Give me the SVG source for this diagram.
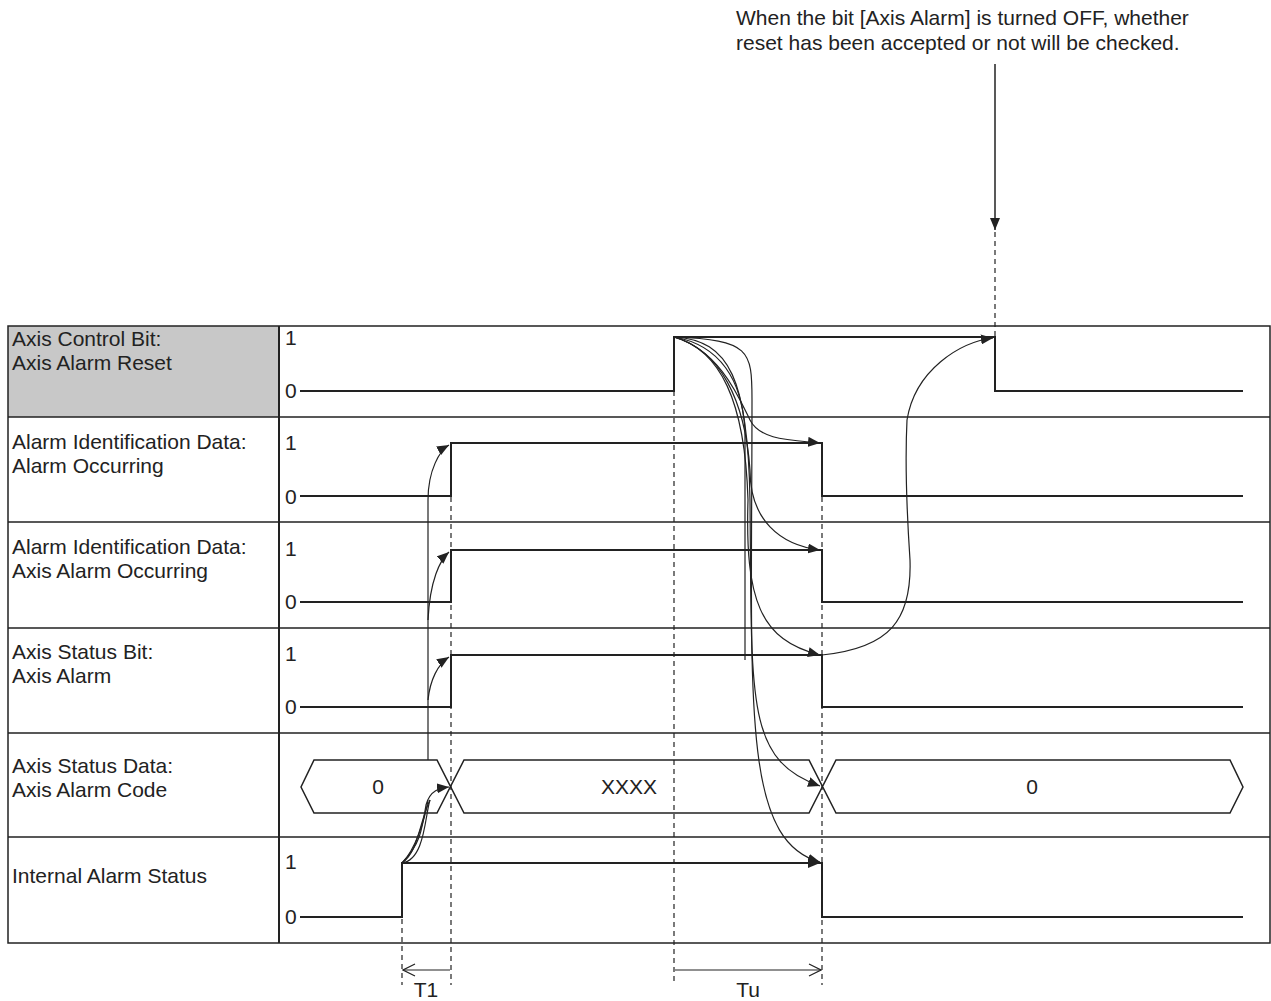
<svg xmlns="http://www.w3.org/2000/svg" width="1271" height="1001" viewBox="0 0 1271 1001">
<style>
text{font-family:"Liberation Sans",Arial,sans-serif;font-size:21px;fill:#222}
.s{fill:none;stroke:#222;stroke-width:2}
.b{fill:none;stroke:#222;stroke-width:1.5}
.c{fill:none;stroke:#222;stroke-width:1.2}
.d{fill:none;stroke:#222;stroke-width:1.2;stroke-dasharray:5,4}
</style>
<defs>
<marker id="a" markerWidth="12" markerHeight="10" refX="12" refY="5" orient="auto" markerUnits="userSpaceOnUse"><path d="M0,0 L12,5 L0,10 Z" fill="#222"/></marker>
<marker id="o" markerWidth="14" markerHeight="14" refX="13" refY="7" orient="auto-start-reverse" markerUnits="userSpaceOnUse"><path d="M1,1 L13,7 L1,13" fill="none" stroke="#222" stroke-width="1.2"/></marker>
</defs>
<g id="table">
<rect x="8" y="326" width="271" height="91" fill="#c8c8c8"/>
<rect x="8" y="326" width="1262" height="617" class="b"/>
<line x1="279" y1="326" x2="279" y2="943" class="s"/>
<path d="M8 417H1270M8 522H1270M8 628H1270M8 733H1270M8 837H1270" class="b"/>
</g>
<g id="labels">
<text x="12" y="346">Axis Control Bit:</text><text x="12" y="370">Axis Alarm Reset</text>
<text x="12" y="449">Alarm Identification Data:</text><text x="12" y="473">Alarm Occurring</text>
<text x="12" y="554">Alarm Identification Data:</text><text x="12" y="578">Axis Alarm Occurring</text>
<text x="12" y="659">Axis Status Bit:</text><text x="12" y="683">Axis Alarm</text>
<text x="12" y="773">Axis Status Data:</text><text x="12" y="797">Axis Alarm Code</text>
<text x="12" y="883">Internal Alarm Status</text>
<text x="285" y="345">1</text><text x="285" y="398">0</text>
<text x="285" y="450">1</text><text x="285" y="504">0</text>
<text x="285" y="556">1</text><text x="285" y="609">0</text>
<text x="285" y="661">1</text><text x="285" y="714">0</text>
<text x="285" y="869">1</text><text x="285" y="924">0</text>
<text x="378" y="794" text-anchor="middle">0</text>
<text x="629" y="794" text-anchor="middle">XXXX</text>
<text x="1032" y="794" text-anchor="middle">0</text>
<text x="736" y="25">When the bit [Axis Alarm] is turned OFF, whether</text>
<text x="736" y="50">reset has been accepted or not will be checked.</text>
<text x="426" y="997" text-anchor="middle">T1</text>
<text x="748" y="997" text-anchor="middle">Tu</text>
</g>
<g id="signals">
<path d="M300 391H674V337H995V391H1243" class="s"/>
<path d="M300 496H451V443H822V496H1243" class="s"/>
<path d="M300 602H451V550H822V602H1243" class="s"/>
<path d="M300 707H451V655H822V707H1243" class="s"/>
<path d="M300 917H402V863H822V917H1243" class="s"/>
<path d="M314 760H437L464 813H809L836 760H1230L1243 787L1230 813H836L809 760H464L437 813H314L301 787Z" class="b"/>
</g>
<g id="connectors">
<path d="M674 337H993M451 443H820M451 550H820M451 655H820M402 863H820" class="s" marker-end="url(#a)"/>
<line x1="995" y1="64" x2="995" y2="230" class="b" marker-end="url(#a)"/>
<path d="M995 232V337" class="d" stroke-width="1.5"/>
<path d="M402 865V985M451 443V985M674 391V985M822 443V985" class="d"/>
<path d="M403 970H450M675 970H821" class="c" marker-start="url(#o)" marker-end="url(#o)"/>
<path d="M402 863C420 845 422 830 426 805C430 790 440 788 449 787" class="c" marker-end="url(#a)"/>
<path d="M402 863C415 850 425 820 428 800" class="c"/>
<path d="M402 863C418 853 420 820 430 800" class="c"/>
<path d="M402 863C425 860 425 815 430 800" class="c"/>
<path d="M428 760V500C428 470 440 450 449 445" class="c" marker-end="url(#a)"/>
<path d="M428 620C430 580 440 560 449 552" class="c" marker-end="url(#a)"/>
<path d="M428 700C430 680 438 664 449 657" class="c" marker-end="url(#a)"/>
<path d="M674 337C720 350 740 400 750 420C760 440 790 440 820 443" class="c" marker-end="url(#a)"/>
<path d="M674 337C720 350 745 400 750 470C750 520 780 545 820 550" class="c" marker-end="url(#a)"/>
<path d="M674 337C720 350 745 400 748 500C745 600 760 640 820 655" class="c" marker-end="url(#a)"/>
<path d="M674 337C730 340 748 380 750 500C752 700 745 760 820 786" class="c" marker-end="url(#a)"/>
<path d="M674 337C750 340 752 350 752 400C752 700 740 840 820 862" class="c" marker-end="url(#a)"/>
<path d="M674 337C720 345 742 380 745 430V660" class="c"/>
<path d="M822 655C890 648 912 620 910 560C906 500 905 460 907 420C915 370 960 342 993 338" class="c" marker-end="url(#a)"/>
</g>
</svg>
